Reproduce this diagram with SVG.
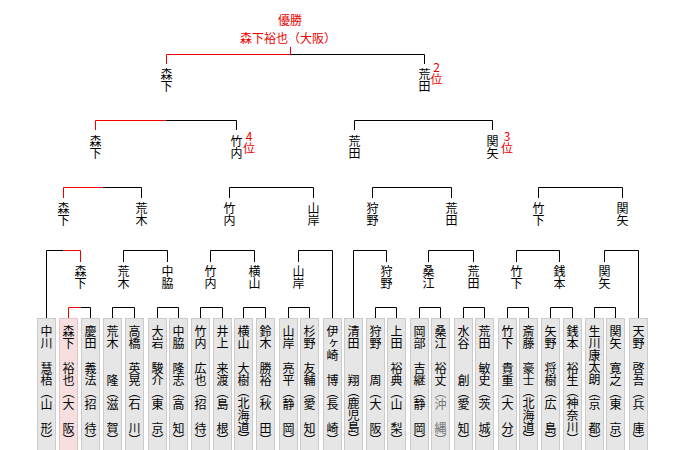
<svg xmlns="http://www.w3.org/2000/svg" width="680" height="450" viewBox="0 0 680 450">
<style>
.t{font-family:"Noto Sans CJK JP","Noto Sans CJK SC",sans-serif;font-size:12px;text-anchor:middle;dominant-baseline:central;fill:#000}
.v{font-family:"Noto Sans CJK JP","Noto Sans CJK SC",sans-serif;font-size:12px;writing-mode:vertical-rl;text-orientation:upright;fill:#000}
.r{fill:#e00}
.g{fill:#777}
.box{fill:#e6e6e6;stroke:#cbcbcb;stroke-width:1}
.win{fill:#f7dfdf;stroke:#dcc6c6}
.ln{fill:none;stroke:#000;stroke-width:1}
.lr{fill:none;stroke:#e00;stroke-width:1}
</style>
<rect width="680" height="450" fill="#fff"/>
<g id="title">
<text class="t r" x="290" y="19">優勝</text>
<text class="t r" x="288" y="37">森下裕也（大阪）</text>
</g>
<g id="connectors">
<path class="ln" d="M290.5,54.5H424.5V64 M165.5,120.5H236.5V130 M354.5,130V120.5H492.5V130 M102.5,187.5H141.5V198 M229.5,198V187.5H313.5V198 M372.5,198V187.5H451.5V198 M538.5,198V187.5H622.5V198 M46.5,318V250.5H63.5 M123.5,262V250.5H167.5V262 M210.5,262V250.5H254.5V262 M298.5,262V250.5H332.5V318 M353.5,318V250.5H386.5V262 M428.5,262V250.5H473.5V262 M516.5,262V250.5H559.5V262 M604.5,262V250.5H638.5V318 M80.5,307.5H90.5V318 M112.5,318V307.5H134.5V318 M157.5,318V307.5H178.5V318 M200.5,318V307.5H222.5V318 M243.5,318V307.5H265.5V318 M288.5,318V307.5H309.5V318 M375.5,318V307.5H396.5V318 M419.5,318V307.5H440.5V318 M463.5,318V307.5H484.5V318 M507.5,318V307.5H528.5V318 M550.5,318V307.5H572.5V318 M594.5,318V307.5H615.5V318"/>
<path class="lr" d="M166.5,64V54.5H290.5 M290.5,47V54.5 M95.5,130V120.5H165.5 M63.5,198V187.5H102.5 M63.5,250.5H80.5V262 M68.5,318V307.5H80.5"/>
</g>
<g id="final">
<text class="v" x="166.5" y="68">森下</text>
<text class="v" x="424.5" y="68">荒田</text>
<text class="v r" x="436.5" y="61">2位</text>
</g>
<g id="semis">
<text class="v" x="95.5" y="135">森下</text>
<text class="v" x="236.5" y="135">竹内</text>
<text class="v r" x="249" y="130">4位</text>
<text class="v" x="354.5" y="135">荒田</text>
<text class="v" x="492.5" y="135">関矢</text>
<text class="v r" x="507" y="130">3位</text>
</g>
<g id="quarters">
<text class="v" x="63.5" y="202">森下</text>
<text class="v" x="141.5" y="202">荒木</text>
<text class="v" x="229.5" y="202">竹内</text>
<text class="v" x="313.5" y="202">山岸</text>
<text class="v" x="372.5" y="202">狩野</text>
<text class="v" x="451.5" y="202">荒田</text>
<text class="v" x="538.5" y="202">竹下</text>
<text class="v" x="622.5" y="202">関矢</text>
</g>
<g id="round2">
<text class="v" x="80.5" y="265">森下</text>
<text class="v" x="123.5" y="265">荒木</text>
<text class="v" x="167.5" y="265">中脇</text>
<text class="v" x="210.5" y="265">竹内</text>
<text class="v" x="254.5" y="265">横山</text>
<text class="v" x="298.5" y="265">山岸</text>
<text class="v" x="386.5" y="265">狩野</text>
<text class="v" x="428.5" y="265">桑江</text>
<text class="v" x="473.5" y="265">荒田</text>
<text class="v" x="516.5" y="265">竹下</text>
<text class="v" x="559.5" y="265">銭本</text>
<text class="v" x="604.5" y="265">関矢</text>
</g>
<g id="p01"><rect class="box" x="37.5" y="318.5" width="18" height="140"/><text class="v" x="46.5" y="325">中川</text><text class="v" x="46.5" y="362">慧梧</text><text class="v" x="46.5" y="386 398 422 434">（山形）</text></g>
<g id="p02"><rect class="box win" x="59.5" y="318.5" width="18" height="140"/><text class="v" x="68.5" y="325">森下</text><text class="v" x="68.5" y="362">裕也</text><text class="v" x="68.5" y="386 398 422 434">（大阪）</text></g>
<g id="p03"><rect class="box" x="81.5" y="318.5" width="18" height="140"/><text class="v" x="90.5" y="325">慶田</text><text class="v" x="90.5" y="362">義法</text><text class="v" x="90.5" y="386 398 422 434">（招待）</text></g>
<g id="p04"><rect class="box" x="103.5" y="318.5" width="18" height="140"/><text class="v" x="112.5" y="325">荒木</text><text class="v" x="112.5" y="374">隆</text><text class="v" x="112.5" y="386 398 422 434">（滋賀）</text></g>
<g id="p05"><rect class="box" x="125.5" y="318.5" width="18" height="140"/><text class="v" x="134.5" y="325">高橋</text><text class="v" x="134.5" y="362">英晃</text><text class="v" x="134.5" y="386 398 422 434">（石川）</text></g>
<g id="p06"><rect class="box" x="148.5" y="318.5" width="18" height="140"/><text class="v" x="157.5" y="325">大岩</text><text class="v" x="157.5" y="362">駿介</text><text class="v" x="157.5" y="386 398 422 434">（東京）</text></g>
<g id="p07"><rect class="box" x="169.5" y="318.5" width="18" height="140"/><text class="v" x="178.5" y="325">中脇</text><text class="v" x="178.5" y="362">隆志</text><text class="v" x="178.5" y="386 398 422 434">（高知）</text></g>
<g id="p08"><rect class="box" x="191.5" y="318.5" width="18" height="140"/><text class="v" x="200.5" y="325">竹内</text><text class="v" x="200.5" y="362">広也</text><text class="v" x="200.5" y="386 398 422 434">（招待）</text></g>
<g id="p09"><rect class="box" x="213.5" y="318.5" width="18" height="140"/><text class="v" x="222.5" y="325">井上</text><text class="v" x="222.5" y="362">来渡</text><text class="v" x="222.5" y="386 398 422 434">（島根）</text></g>
<g id="p10"><rect class="box" x="234.5" y="318.5" width="18" height="140"/><text class="v" x="243.5" y="325">横山</text><text class="v" x="243.5" y="362">大樹</text><text class="v" x="243.5" y="385 397 409 421 433">（北海道）</text></g>
<g id="p11"><rect class="box" x="256.5" y="318.5" width="18" height="140"/><text class="v" x="265.5" y="325">鈴木</text><text class="v" x="265.5" y="362">勝裕</text><text class="v" x="265.5" y="386 398 422 434">（秋田）</text></g>
<g id="p12"><rect class="box" x="279.5" y="318.5" width="18" height="140"/><text class="v" x="288.5" y="325">山岸</text><text class="v" x="288.5" y="362">亮平</text><text class="v" x="288.5" y="386 398 422 434">（静岡）</text></g>
<g id="p13"><rect class="box" x="300.5" y="318.5" width="18" height="140"/><text class="v" x="309.5" y="325">杉野</text><text class="v" x="309.5" y="362">友輔</text><text class="v" x="309.5" y="386 398 422 434">（愛知）</text></g>
<g id="p14"><rect class="box" x="323.5" y="318.5" width="18" height="140"/><text class="v" x="332.5" y="325">伊ヶ崎</text><text class="v" x="332.5" y="374">博</text><text class="v" x="332.5" y="386 398 422 434">（長崎）</text></g>
<g id="p15"><rect class="box" x="344.5" y="318.5" width="18" height="140"/><text class="v" x="353.5" y="325">清田</text><text class="v" x="353.5" y="374">翔</text><text class="v" x="353.5" y="385 397 409 421 433">（鹿児島）</text></g>
<g id="p16"><rect class="box" x="366.5" y="318.5" width="18" height="140"/><text class="v" x="375.5" y="325">狩野</text><text class="v" x="375.5" y="374">周</text><text class="v" x="375.5" y="386 398 422 434">（大阪）</text></g>
<g id="p17"><rect class="box" x="387.5" y="318.5" width="18" height="140"/><text class="v" x="396.5" y="325">上田</text><text class="v" x="396.5" y="362">裕典</text><text class="v" x="396.5" y="386 398 422 434">（山梨）</text></g>
<g id="p18"><rect class="box" x="410.5" y="318.5" width="18" height="140"/><text class="v" x="419.5" y="325">岡部</text><text class="v" x="419.5" y="362">吉継</text><text class="v" x="419.5" y="386 398 422 434">（静岡）</text></g>
<g id="p19"><rect class="box" x="431.5" y="318.5" width="18" height="140"/><text class="v" x="440.5" y="325">桑江</text><text class="v" x="440.5" y="362">裕丈</text><text class="v g" x="440.5" y="386 398 422 434">（沖縄）</text></g>
<g id="p20"><rect class="box" x="454.5" y="318.5" width="18" height="140"/><text class="v" x="463.5" y="325">水谷</text><text class="v" x="463.5" y="374">創</text><text class="v" x="463.5" y="386 398 422 434">（愛知）</text></g>
<g id="p21"><rect class="box" x="475.5" y="318.5" width="18" height="140"/><text class="v" x="484.5" y="325">荒田</text><text class="v" x="484.5" y="362">敏史</text><text class="v" x="484.5" y="386 398 422 434">（茨城）</text></g>
<g id="p22"><rect class="box" x="498.5" y="318.5" width="18" height="140"/><text class="v" x="507.5" y="325">竹下</text><text class="v" x="507.5" y="362">貴重</text><text class="v" x="507.5" y="386 398 422 434">（大分）</text></g>
<g id="p23"><rect class="box" x="519.5" y="318.5" width="18" height="140"/><text class="v" x="528.5" y="325">斎藤</text><text class="v" x="528.5" y="362">豪士</text><text class="v" x="528.5" y="385 397 409 421 433">（北海道）</text></g>
<g id="p24"><rect class="box" x="541.5" y="318.5" width="18" height="140"/><text class="v" x="550.5" y="325">矢野</text><text class="v" x="550.5" y="362">将樹</text><text class="v" x="550.5" y="386 398 422 434">（広島）</text></g>
<g id="p25"><rect class="box" x="563.5" y="318.5" width="18" height="140"/><text class="v" x="572.5" y="325">銭本</text><text class="v" x="572.5" y="362">裕生</text><text class="v" x="572.5" y="385 397 409 421 433">（神奈川）</text></g>
<g id="p26"><rect class="box" x="585.5" y="318.5" width="18" height="140"/><text class="v" x="594.5" y="325">生川康太朗</text><text class="v" x="594.5" y="386 398 422 434">（京都）</text></g>
<g id="p27"><rect class="box" x="606.5" y="318.5" width="18" height="140"/><text class="v" x="615.5" y="325">関矢</text><text class="v" x="615.5" y="362">寛之</text><text class="v" x="615.5" y="386 398 422 434">（東京）</text></g>
<g id="p28"><rect class="box" x="629.5" y="318.5" width="18" height="140"/><text class="v" x="638.5" y="325">天野</text><text class="v" x="638.5" y="362">啓吾</text><text class="v" x="638.5" y="386 398 422 434">（兵庫）</text></g>
</svg>
